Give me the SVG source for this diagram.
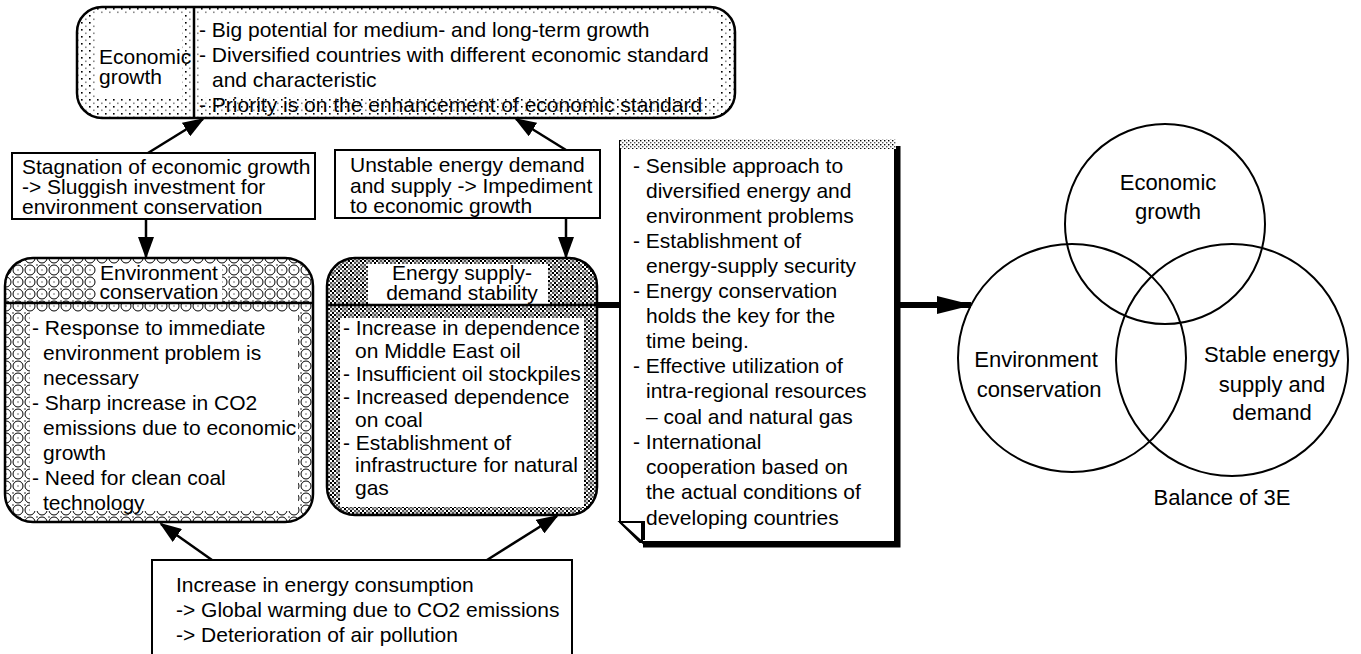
<svg xmlns="http://www.w3.org/2000/svg" width="1361" height="654" viewBox="0 0 1361 654">
<style>
  .t { font-family: "Liberation Sans", Arial, sans-serif; font-size: 21px; fill: #000; }
  .v { font-family: "Liberation Sans", Arial, sans-serif; font-size: 22px; fill: #000; text-anchor: middle; }
  .m { text-anchor: middle; }
  .box { fill: #fff; stroke: #000; stroke-width: 2; }
  .edge { fill: none; stroke: #000; stroke-width: 2.5; }
  .ln { stroke: #000; stroke-width: 2.5; fill: none; }
  .thick { stroke: #000; stroke-width: 6; fill: none; }
  .ring { fill: none; stroke: #000; stroke-width: 2; }
  .wh { fill: #fff; }
</style>
<defs>
  <pattern id="dots" width="8" height="7" patternUnits="userSpaceOnUse">
    <rect width="8" height="7" fill="#fff"/>
    <rect x="1" y="1" width="1.6" height="1.6" fill="#000"/>
    <rect x="5" y="4.5" width="1.6" height="1.6" fill="#8a8a8a"/>
  </pattern>
  <pattern id="fineDots" width="4" height="4" patternUnits="userSpaceOnUse">
    <rect width="4" height="4" fill="#fff"/>
    <rect x="0" y="0" width="1.4" height="1.4" fill="#000"/>
    <rect x="2" y="2" width="1.4" height="1.4" fill="#555"/>
  </pattern>
  <pattern id="rings" width="12" height="12" patternUnits="userSpaceOnUse">
    <rect width="12" height="12" fill="#fff"/>
    <circle cx="6" cy="6" r="5" fill="none" stroke="#000" stroke-width="1"/>
    <rect x="0" y="0" width="2" height="2" fill="#999"/>
    <rect x="5" y="5" width="2" height="2" fill="#bbb"/>
  </pattern>
  <pattern id="checks" width="12" height="12" patternUnits="userSpaceOnUse">
    <rect width="12" height="12" fill="#fff"/>
    <path fill="#000" d="M0 0h2v2H0zM4 0h2v2H4zM8 0h2v2H8zM2 2h2v2H2zM6 2h2v2H6zM10 2h2v2h-2zM0 4h2v2H0zM4 4h2v2H4zM8 4h2v2H8zM2 6h2v2H2zM6 6h2v2H6zM10 6h2v2h-2zM0 8h2v2H0zM4 8h2v2H4zM8 8h2v2H8zM2 10h2v2H2zM6 10h2v2H6zM10 10h2v2h-2z"/>
    <rect x="0" y="0" width="6" height="6" fill="#999" opacity="0.55"/>
    <rect x="6" y="6" width="6" height="6" fill="#999" opacity="0.55"/>
  </pattern>
  <marker id="head" viewBox="0 0 22 16" refX="20" refY="8" markerWidth="22" markerHeight="16" markerUnits="userSpaceOnUse" orient="auto">
    <path d="M0 0L22 8L0 16Z" fill="#000"/>
  </marker>
  <marker id="bighead" viewBox="0 0 36 18" refX="34" refY="9" markerWidth="36" markerHeight="18" markerUnits="userSpaceOnUse" orient="auto">
    <path d="M0 0L36 9L0 18Z" fill="#000"/>
  </marker>
</defs>

<!-- Economic growth -->
<g id="economic-growth">
  <rect x="77" y="7" width="658" height="111" rx="25" fill="url(#dots)"/>
  <rect class="wh" x="97" y="14" width="85" height="84"/>
  <rect class="wh" x="200" y="14" width="520" height="83"/>
  <line class="ln" x1="194" y1="7" x2="194" y2="118"/>
  <rect class="edge" x="77" y="7" width="658" height="111" rx="25"/>
  <text class="t" x="99" y="64">Economic</text>
  <text class="t" x="99" y="84">growth</text>
  <text class="t" x="199" y="37">- Big potential for medium- and long-term growth</text>
  <text class="t" x="199" y="62">- Diversified countries with different economic standard</text>
  <text class="t" x="212" y="87">and characteristic</text>
  <text class="t" x="199" y="112">- Priority is on the enhancement of economic standard</text>
</g>

<!-- Stagnation note -->
<g id="stagnation">
  <rect class="box" x="12" y="153" width="303" height="66"/>
  <text class="t" x="22" y="174">Stagnation of economic growth</text>
  <text class="t" x="22" y="194">-&gt; Sluggish investment for</text>
  <text class="t" x="22" y="214">environment conservation</text>
</g>

<!-- Unstable energy note -->
<g id="unstable-energy">
  <rect class="box" x="335" y="150" width="265" height="68"/>
  <text class="t" x="350" y="172">Unstable energy demand</text>
  <text class="t" x="350" y="193">and supply -&gt; Impediment</text>
  <text class="t" x="350" y="213">to economic growth</text>
</g>

<!-- Environment conservation -->
<g id="environment-conservation">
  <rect x="5" y="258" width="308" height="264" rx="28" fill="url(#rings)"/>
  <rect class="wh" x="96" y="264" width="126" height="39"/>
  <rect class="wh" x="30" y="312" width="268" height="199"/>
  <line class="ln" x1="5" y1="303" x2="313" y2="303"/>
  <rect class="edge" x="5" y="258" width="308" height="264" rx="28"/>
  <text class="t m" x="159" y="280">Environment</text>
  <text class="t m" x="159" y="299">conservation</text>
  <text class="t" x="32" y="335">- Response to immediate</text>
  <text class="t" x="43" y="360">environment problem is</text>
  <text class="t" x="43" y="385">necessary</text>
  <text class="t" x="32" y="410">- Sharp increase in CO2</text>
  <text class="t" x="43" y="435">emissions due to economic</text>
  <text class="t" x="43" y="460">growth</text>
  <text class="t" x="32" y="485">- Need for clean coal</text>
  <text class="t" x="43" y="510">technology</text>
</g>

<!-- Energy supply-demand stability -->
<g id="energy-stability">
  <rect x="327" y="258" width="270" height="257" rx="28" fill="url(#checks)"/>
  <rect class="wh" x="368" y="264" width="180" height="40"/>
  <rect class="wh" x="340" y="318" width="244" height="189"/>
  <line class="ln" x1="327" y1="305" x2="597" y2="305"/>
  <rect class="edge" x="327" y="258" width="270" height="257" rx="28"/>
  <text class="t m" x="462" y="280">Energy supply-</text>
  <text class="t m" x="462" y="300">demand stability</text>
  <text class="t" x="343" y="335">- Increase in dependence</text>
  <text class="t" x="355" y="358">on Middle East oil</text>
  <text class="t" x="343" y="381">- Insufficient oil stockpiles</text>
  <text class="t" x="343" y="404">- Increased dependence</text>
  <text class="t" x="355" y="427">on coal</text>
  <text class="t" x="343" y="450">- Establishment of</text>
  <text class="t" x="355" y="472">infrastructure for natural</text>
  <text class="t" x="355" y="495">gas</text>
</g>

<!-- Policy document with folded corner -->
<g id="policy">
  <path d="M898 146V545H643" fill="none" stroke="#000" stroke-width="5"/>
  <path d="M620 140H895V542H640L620 522Z" fill="#fff"/>
  <path d="M620 140V522L640 542H895V140" fill="none" stroke="#000" stroke-width="2"/>
  <rect x="620" y="139" width="276" height="10" fill="url(#fineDots)"/>
  <path d="M620 522H642V542Z" fill="#fff" stroke="#000" stroke-width="2"/>
  <line x1="643" y1="521" x2="643" y2="540" stroke="#000" stroke-width="4"/>
  <text class="t" x="633" y="173">- Sensible approach to</text>
  <text class="t" x="646" y="198">diversified energy and</text>
  <text class="t" x="646" y="223">environment problems</text>
  <text class="t" x="633" y="248">- Establishment of</text>
  <text class="t" x="646" y="273">energy-supply security</text>
  <text class="t" x="633" y="298">- Energy conservation</text>
  <text class="t" x="646" y="323">holds the key for the</text>
  <text class="t" x="646" y="348">time being.</text>
  <text class="t" x="633" y="373">- Effective utilization of</text>
  <text class="t" x="646" y="398">intra-regional resources</text>
  <text class="t" x="646" y="424">– coal and natural gas</text>
  <text class="t" x="633" y="449">- International</text>
  <text class="t" x="646" y="474">cooperation based on</text>
  <text class="t" x="646" y="499">the actual conditions of</text>
  <text class="t" x="646" y="525">developing countries</text>
</g>

<!-- Energy consumption note -->
<g id="energy-consumption">
  <rect class="box" x="152" y="560" width="420" height="110"/>
  <text class="t" x="176" y="592">Increase in energy consumption</text>
  <text class="t" x="176" y="617">-&gt; Global warming due to CO2 emissions</text>
  <text class="t" x="176" y="642">-&gt; Deterioration of air pollution</text>
</g>

<!-- Balance of 3E -->
<g id="balance-3e">
  <circle class="ring" cx="1165" cy="224" r="100"/>
  <circle class="ring" cx="1072" cy="358" r="114"/>
  <circle class="ring" cx="1232" cy="360" r="116"/>
  <text class="v" x="1168" y="190">Economic</text>
  <text class="v" x="1168" y="219">growth</text>
  <text class="v" x="1036" y="367">Environment</text>
  <text class="v" x="1039" y="397">conservation</text>
  <text class="v" x="1272" y="362">Stable energy</text>
  <text class="v" x="1272" y="392">supply and</text>
  <text class="v" x="1272" y="420">demand</text>
  <text class="v" x="1222" y="505">Balance of 3E</text>
</g>

<!-- connectors -->
<g id="connectors">
  <line class="ln" x1="148" y1="153" x2="203" y2="119" marker-end="url(#head)"/>
  <line class="ln" x1="566" y1="150" x2="516" y2="119" marker-end="url(#head)"/>
  <line class="ln" x1="146" y1="219" x2="146" y2="257" marker-end="url(#head)"/>
  <line class="ln" x1="566" y1="218" x2="566" y2="257" marker-end="url(#head)"/>
  <line class="ln" x1="212" y1="560" x2="161" y2="524" marker-end="url(#head)"/>
  <line class="ln" x1="487" y1="560" x2="557" y2="516" marker-end="url(#head)"/>
  <line class="thick" x1="597" y1="305" x2="620" y2="305"/>
  <line class="thick" x1="898" y1="305" x2="971" y2="305" marker-end="url(#bighead)"/>
</g>
</svg>
